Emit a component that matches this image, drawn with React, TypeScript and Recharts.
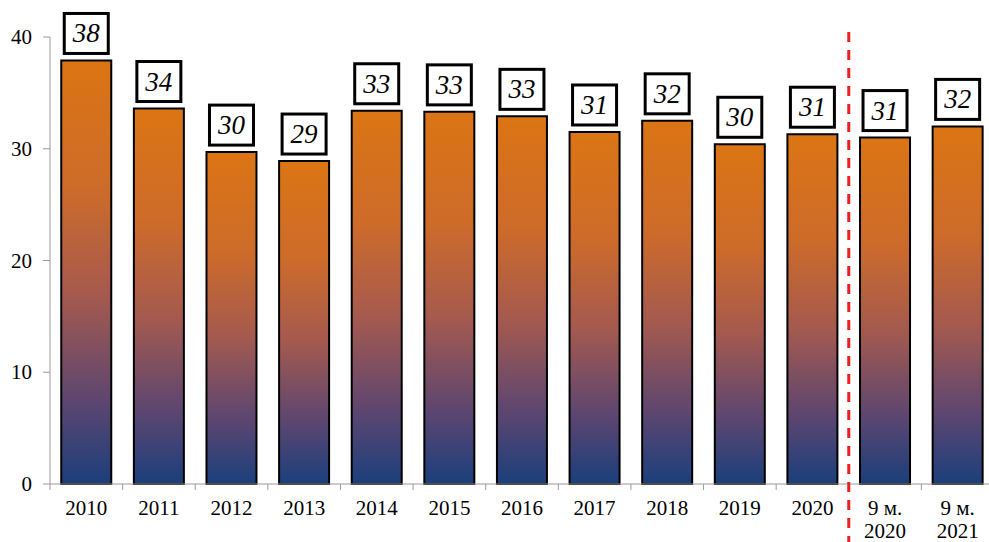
import React from 'react'
import { Bar, BarChart, LabelList, XAxis, YAxis } from 'recharts'

const categories = [
  '2010', '2011', '2012', '2013', '2014', '2015', '2016',
  '2017', '2018', '2019', '2020', '9 м.\n2020', '9 м.\n2021',
]
const values = [37.9, 33.6, 29.7, 28.9, 33.4, 33.3, 32.9, 31.5, 32.5, 30.4, 31.3, 31.0, 32.0]
const labels = ['38', '34', '30', '29', '33', '33', '33', '31', '32', '30', '31', '31', '32']
const yTicks = [0, 10, 20, 30, 40]

const data = categories.map((name, i) => ({ name, value: values[i] }))

const CHART_W = 1000
const CHART_H = 542
const MARGIN = { top: 37, right: 6, left: 0, bottom: 0 }
const Y_AXIS_W = 50
const X_AXIS_H = 58
const HALF_BAND = (CHART_W - MARGIN.left - MARGIN.right - Y_AXIS_W) / categories.length / 2
// the red divider sits before the 9-month columns
const DIVIDER_INDEX = 11
const FONT = "'Liberation Serif', 'Times New Roman', serif"
const AXIS_GREY = '#9a9a9a'

function CategoryTick(props: any) {
  const { x, y, payload, index } = props
  const lines = String(payload.value).split('\n')
  const left = x - HALF_BAND
  return (
    <g>
      <line x1={left} y1={y} x2={left} y2={y + 6} stroke={AXIS_GREY} />
      <text x={x} y={y + 31} textAnchor="middle" fontSize={21} fontFamily={FONT} fill="#000">
        {lines.map((l, i) => (
          <tspan key={i} x={x} dy={i === 0 ? 0 : 23}>{l}</tspan>
        ))}
      </text>
      {index === DIVIDER_INDEX && (
        <line
          x1={left}
          y1={MARGIN.top - 5}
          x2={left}
          y2={CHART_H}
          stroke="#f01e1e"
          strokeWidth={3}
          strokeDasharray="10 8"
        />
      )}
    </g>
  )
}

function ValueTick(props: any) {
  const { x, y, payload } = props
  return (
    <text x={x} y={y + 7} textAnchor="end" fontSize={21} fontFamily={FONT} fill="#000">
      {payload.value}
    </text>
  )
}

function ValueBox(props: any) {
  const { x, y, width, index } = props
  const cx = x + width / 2
  const bottom = y - 7
  return (
    <g>
      <rect x={cx - 22} y={bottom - 40} width={44} height={40} fill="#fff" stroke="#000" strokeWidth={3} />
      <text x={cx} y={bottom - 11} textAnchor="middle" fontSize={27} fontStyle="italic" fontFamily={FONT} fill="#000">
        {labels[index]}
      </text>
    </g>
  )
}

export default function App() {
  return (
    <div style={{ width: 989, height: 542, overflow: 'hidden', background: '#fff', fontFamily: FONT }}>
      <style>{'body{margin:0}'}</style>
      <BarChart width={CHART_W} height={CHART_H} data={data} margin={MARGIN} barCategoryGap="15.5%">
        <defs>
          <linearGradient id="barFill" x1="0" y1="0" x2="0" y2="1">
            <stop offset="0%" stopColor="#db7514" />
            <stop offset="30%" stopColor="#cd6b2a" />
            <stop offset="55%" stopColor="#a65a4e" />
            <stop offset="80%" stopColor="#5e4670" />
            <stop offset="100%" stopColor="#1b3f7c" />
          </linearGradient>
        </defs>
        <XAxis
          dataKey="name"
          interval={0}
          height={X_AXIS_H}
          tickLine={false}
          tickSize={0}
          tickMargin={0}
          axisLine={{ stroke: AXIS_GREY }}
          tick={<CategoryTick />}
        />
        <YAxis
          width={Y_AXIS_W}
          domain={[0, 40]}
          ticks={yTicks}
          tickSize={7}
          tickMargin={11}
          axisLine={{ stroke: AXIS_GREY }}
          tickLine={{ stroke: AXIS_GREY }}
          tick={<ValueTick />}
        />
        <Bar dataKey="value" fill="url(#barFill)" stroke="#000" strokeWidth={2} isAnimationActive={false}>
          <LabelList dataKey="value" content={<ValueBox />} />
        </Bar>
      </BarChart>
    </div>
  )
}
